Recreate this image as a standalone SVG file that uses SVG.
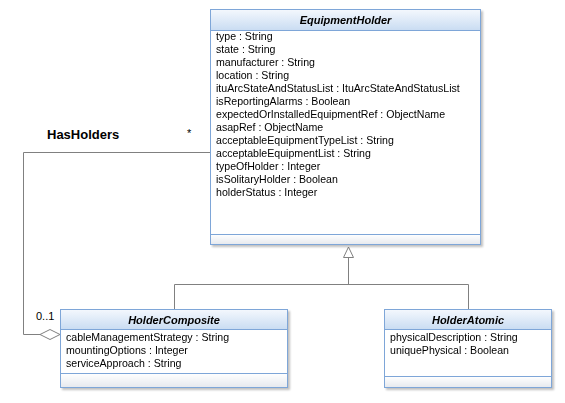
<svg xmlns="http://www.w3.org/2000/svg" width="565" height="403" viewBox="0 0 565 403">
<defs>
<linearGradient id="hdr" x1="0" y1="0" x2="0" y2="1"><stop offset="0" stop-color="#f4f8fd"/><stop offset="1" stop-color="#c9dcf2"/></linearGradient>
<linearGradient id="ftr" x1="0" y1="0" x2="0" y2="1"><stop offset="0" stop-color="#ffffff"/><stop offset="1" stop-color="#e6e9ee"/></linearGradient>
<filter id="sh" x="-10%" y="-10%" width="130%" height="130%"><feGaussianBlur in="SourceAlpha" stdDeviation="1.2"/><feOffset dx="2" dy="2"/><feComponentTransfer><feFuncA type="linear" slope="0.25"/></feComponentTransfer><feMerge><feMergeNode/><feMergeNode in="SourceGraphic"/></feMerge></filter>
</defs>
<style>
.box{fill:#fff;stroke:#7ea6d8;stroke-width:1}
.hd{fill:url(#hdr);stroke:#7ea6d8}
.ft{fill:url(#ftr);stroke:#7ea6d8}
.t{font-family:"Liberation Sans",Arial,sans-serif;font-size:10.6px;fill:#000}
.h{font-family:"Liberation Sans",Arial,sans-serif;font-size:11px;font-weight:bold;font-style:italic;text-anchor:middle;fill:#000}
.c{fill:none;stroke:#808080;stroke-width:1}
.lbl{font-family:"Liberation Sans",Arial,sans-serif;font-size:11px;fill:#000}
.big{font-family:"Liberation Sans",Arial,sans-serif;font-size:13px;font-weight:bold;fill:#000}
</style>
<g id="connectors">
<polyline class="c" points="210.5,152.5 23.5,152.5 23.5,334.5 40,334.5"/>
<polygon points="40,334.5 50,329.5 60,334.5 50,339.5" fill="#fff" stroke="#808080"/>
<polyline class="c" points="174.5,309 174.5,284.5 468.5,284.5 468.5,309"/>
<line class="c" x1="348.5" y1="284.5" x2="348.5" y2="257"/>
<polygon points="348.5,247 343.5,257.5 353.5,257.5" fill="#fff" stroke="#808080"/>
<text class="big" x="47" y="139">HasHolders</text>
<text class="lbl" x="187" y="137">*</text>
<text class="lbl" x="36" y="320">0..1</text>
</g>
<g id="EquipmentHolder" filter="url(#sh)">
<rect class="box" x="210.5" y="9.5" width="270" height="235"/>
<rect class="hd" x="210.5" y="9.5" width="270" height="21"/>
<rect class="ft" x="210.5" y="234.5" width="270" height="10"/>
<text class="h" x="345.5" y="24">EquipmentHolder</text>
<text class="t" x="216" y="40">type : String</text>
<text class="t" x="216" y="53">state : String</text>
<text class="t" x="216" y="66">manufacturer : String</text>
<text class="t" x="216" y="79">location : String</text>
<text class="t" x="216" y="92">ituArcStateAndStatusList : ItuArcStateAndStatusList</text>
<text class="t" x="216" y="105">isReportingAlarms : Boolean</text>
<text class="t" x="216" y="118">expectedOrInstalledEquipmentRef : ObjectName</text>
<text class="t" x="216" y="131">asapRef : ObjectName</text>
<text class="t" x="216" y="144">acceptableEquipmentTypeList : String</text>
<text class="t" x="216" y="157">acceptableEquipmentList : String</text>
<text class="t" x="216" y="170">typeOfHolder : Integer</text>
<text class="t" x="216" y="183">isSolitaryHolder : Boolean</text>
<text class="t" x="216" y="196">holderStatus : Integer</text>
</g>
<g id="HolderComposite" filter="url(#sh)">
<rect class="box" x="60.5" y="309.5" width="227" height="78"/>
<rect class="hd" x="60.5" y="309.5" width="227" height="20"/>
<rect class="ft" x="60.5" y="373.5" width="227" height="14"/>
<text class="h" x="174" y="324">HolderComposite</text>
<text class="t" x="66" y="341">cableManagementStrategy : String</text>
<text class="t" x="66" y="354">mountingOptions : Integer</text>
<text class="t" x="66" y="367">serviceApproach : String</text>
</g>
<g id="HolderAtomic" filter="url(#sh)">
<rect class="box" x="384.5" y="309.5" width="167" height="78"/>
<rect class="hd" x="384.5" y="309.5" width="167" height="20"/>
<rect class="ft" x="384.5" y="376.5" width="167" height="11"/>
<text class="h" x="468" y="324">HolderAtomic</text>
<text class="t" x="390" y="341">physicalDescription : String</text>
<text class="t" x="390" y="354">uniquePhysical : Boolean</text>
</g>
</svg>
